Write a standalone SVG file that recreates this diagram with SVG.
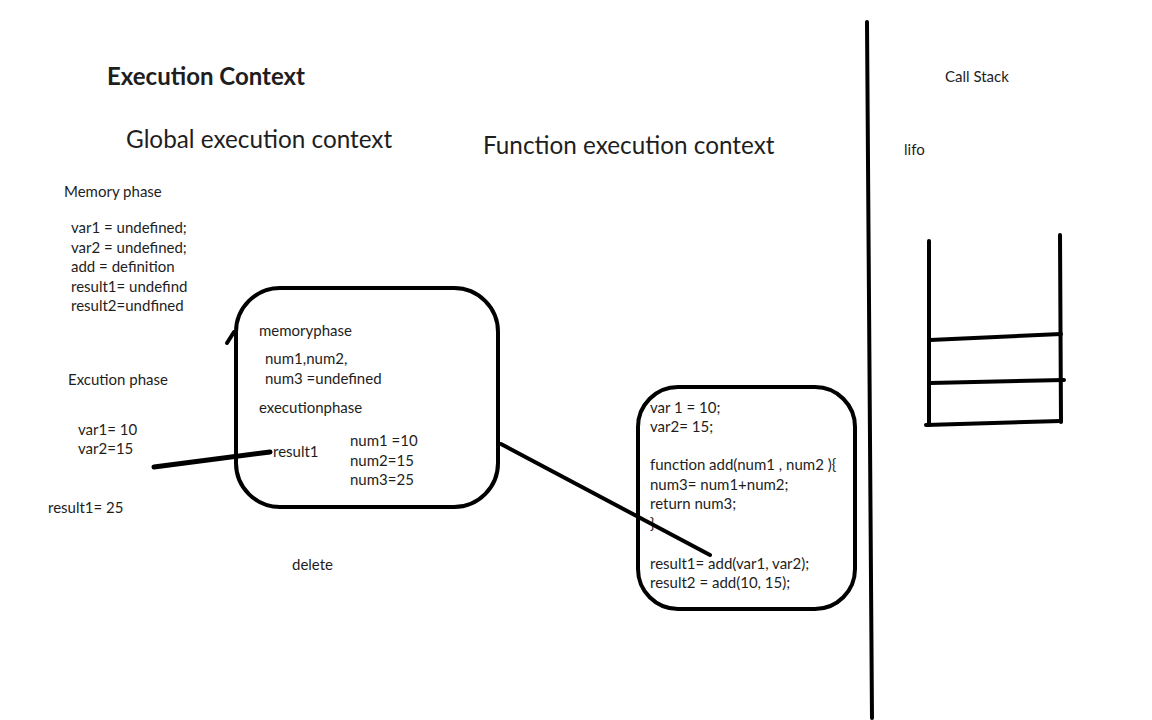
<svg xmlns="http://www.w3.org/2000/svg" width="1152" height="720" viewBox="0 0 1152 720">
<style>
text{font-family:Lato,"Noto Sans","Liberation Sans",sans-serif;fill:#1e1e1e;font-size:15px}
.h1{font-size:24px;font-weight:bold}
.h2{font-size:24.3px}
.ln{fill:none;stroke:#000;stroke-width:4;stroke-linecap:round}
.box{fill:none;stroke:#000;stroke-width:4}
</style>
<rect width="1152" height="720" fill="#fff"/>
<g id="titles">
<text class="h1" x="107" y="85">Execution Context</text>
<text class="h2" x="126" y="148">Global execution context</text>
<text class="h2" x="483" y="154">Function execution context</text>
<text x="945" y="82">Call Stack</text>
<text x="904" y="155">lifo</text>
</g>
<g id="global-memory">
<text x="64" y="197">Memory phase</text>
<text x="71" y="233">var1 = undefined;</text>
<text x="71" y="253">var2 = undefined;</text>
<text x="71" y="272">add = definition</text>
<text x="71" y="292">result1= undefind</text>
<text x="71" y="311">result2=undfined</text>
</g>
<g id="global-execution">
<text x="68" y="385">Excution phase</text>
<text x="78" y="435">var1= 10</text>
<text x="78" y="454">var2=15</text>
<text x="48" y="513">result1= 25</text>
<text x="292" y="570">delete</text>
</g>
<g id="function-context">
<rect class="box" x="236" y="288" width="262" height="219" rx="44"/>
<text x="259" y="336">memoryphase</text>
<text x="265" y="364">num1,num2,</text>
<text x="265" y="384">num3 =undefined</text>
<text x="259" y="413">executionphase</text>
<text x="273" y="457">result1</text>
<text x="350" y="446">num1 =10</text>
<text x="350" y="466">num2=15</text>
<text x="350" y="485">num3=25</text>
</g>
<g id="code">
<rect class="box" x="638" y="387" width="217" height="222" rx="40"/>
<text x="650" y="413">var 1 = 10;</text>
<text x="650" y="432">var2= 15;</text>
<text x="650" y="470">function add(num1 , num2 ){</text>
<text x="650" y="490">num3= num1+num2;</text>
<text x="650" y="509">return num3;</text>
<text x="650" y="529">}</text>
<text x="650" y="569">result1= add(var1, var2);</text>
<text x="650" y="588">result2 = add(10, 15);</text>
</g>
<g id="call-stack">
<path class="ln" d="M929 241 L929 425"/>
<path class="ln" d="M1060 235 L1061 422"/>
<path class="ln" d="M930 340 L1061 334"/>
<path class="ln" d="M930 383 L1064 380"/>
<path class="ln" d="M926 425 L1061 421"/>
</g>
<g id="connectors">
<path class="ln" d="M867 22 L872 718"/>
<path class="ln" d="M154 467 L270 452" style="stroke-width:5"/>
<path class="ln" d="M501 444 L710 555"/>
<path class="ln" d="M227 343 L234 332"/>
</g>
</svg>
